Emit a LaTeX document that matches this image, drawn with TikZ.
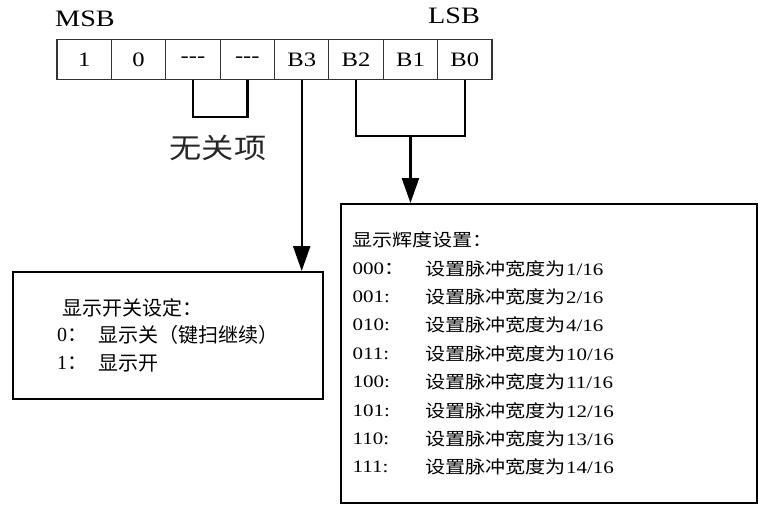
\documentclass[tikz,border=0pt]{standalone}
\usepackage{fontspec}
\setmainfont{Liberation Serif}
\newfontfamily\cjk{Noto Sans CJK SC}
\newfontfamily\cjkw{Noto Sans CJK SC}[FakeStretch=1.15]
\newfontfamily\serw{Liberation Serif}[FakeStretch=1.2]
\usetikzlibrary{arrows.meta}
\tikzset{
  cell/.style={draw=black!80, line width=1.1pt, minimum width=54.4pt, minimum height=40pt, inner sep=0pt, font=\fontsize{20.5}{22}\selectfont\serw},
  lbl/.style={inner sep=0pt, font=\fontsize{23.5}{26}\selectfont\serw},
  box/.style={draw, line width=1.8pt, inner sep=0pt},
  wire/.style={line width=2.4pt},
  arr/.style={line width=2.4pt, -{Triangle[length=25pt,width=17pt]}},
  rt/.style={inner sep=0pt, anchor=west, font=\fontsize{17.5}{20}\selectfont\serw},
  lt/.style={inner sep=0pt, anchor=west, font=\fontsize{20}{22}\selectfont},
}
\begin{document}
\begin{tikzpicture}[x=1pt,y=-1pt]
\useasboundingbox (0,0) rectangle (758,504);
% register
\foreach \t [count=\i] in {1,0,---,---,B3,B2,B1,B0}{
  \node[cell] (c\i) at ({57+27.2+54.375*(\i-1)},59.5) {\t};
}
\node[lbl] (msb) at (85,19) {MSB};
\node[lbl] (lsb) at (454,16) {LSB};
% don't care bracket
\draw[wire] (c3.south) -- ++(0,37) coordinate (dl) -| (c4.south);
\node[inner sep=0pt, font=\fontsize{28}{30}\selectfont\cjkw, text=black!85] (nc) at (218,148) {无关项};
% boxes
\node[box, minimum width=310pt, minimum height=127pt, anchor=north west] (lbox) at (12,271) {};
\node[box, minimum width=416pt, minimum height=299pt, anchor=north west] (rbox) at (340,203) {};
% B3 arrow
\draw[arr] (c5.south) -- (c5.south |- lbox.north);
% B2-B0 bracket and arrow
\draw[wire] (c6.south) -- ++(0,56) coordinate (bl) -| (c8.south);
\path (bl) -- (c8.south |- bl) coordinate[pos=0.5] (midb);
\draw[arr] (midb) -- (midb |- rbox.north);
% left box text
\node[lt] (l0) at (62,308) {\cjk 显示开关设定：};
\node[lt] (l1a) at (57,335) {0\cjk ：};
\node[lt] (l1b) at (98,335) {\cjk 显示关（键扫继续）};
\node[lt] (l2a) at (57,363) {1\cjk ：};
\node[lt] (l2b) at (98,363) {\cjk 显示开};
% right box text
\node[rt] (h) at (352,240) {\cjkw 显示辉度设置：};
\foreach \c/\v [count=\i] in {000{\cjkw ：}/1,001:/2,010:/4,011:/10,100:/11,101:/12,110:/13,111:/14}{
  \node[rt] (k\i) at (352.5,{240+28.4*\i}) {\c};
  \node[rt] (d\i) at (425,{240+28.4*\i}) {{\cjkw 设置脉冲宽度为}\v/16};
}
\end{tikzpicture}
\end{document}
